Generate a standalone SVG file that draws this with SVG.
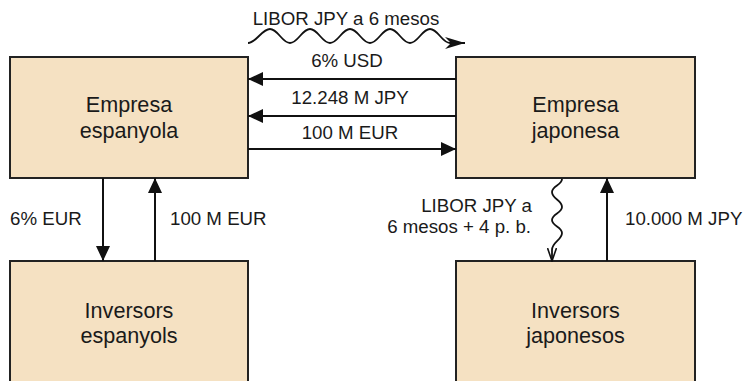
<svg xmlns="http://www.w3.org/2000/svg" width="744" height="381" viewBox="0 0 744 381">
  <style>
    .box { fill: #F5E1C2; stroke: #222; stroke-width: 2; }
    .name { font-family: "Liberation Sans", Arial, sans-serif; font-size: 21.6px; fill: #1a1a1a; text-anchor: middle; }
    .lbl { font-family: "Liberation Sans", Arial, sans-serif; font-size: 18.7px; fill: #1a1a1a; }
    .line { fill: none; stroke: #111; stroke-width: 2; }
    .wave { fill: none; stroke: #111; stroke-width: 1.8; }
  </style>
  <defs>
    <marker id="solid" viewBox="0 0 15 14" refX="15" refY="7" markerWidth="15" markerHeight="14" markerUnits="userSpaceOnUse" orient="auto">
      <path d="M0,0 L15,7 L0,14 Z" fill="#111"/>
    </marker>
    <marker id="barb" viewBox="0 0 20 12" refX="20" refY="6" markerWidth="20" markerHeight="12" markerUnits="userSpaceOnUse" orient="auto">
      <path d="M0,0 L20,6 L0,12 L6,6 Z" fill="#111"/>
    </marker>
    <marker id="open" viewBox="0 0 14 10" refX="13" refY="5" markerWidth="14" markerHeight="10" markerUnits="userSpaceOnUse" orient="auto">
      <path d="M0,0.5 L13,5 L0,9.5" fill="none" stroke="#111" stroke-width="1.6"/>
    </marker>
  </defs>

  <g id="empresa-espanyola">
    <rect class="box" x="10" y="57" width="238" height="121"/>
    <text class="name" x="129" y="112">Empresa</text>
    <text class="name" x="129" y="138">espanyola</text>
  </g>
  <g id="empresa-japonesa">
    <rect class="box" x="456" y="57" width="239" height="121"/>
    <text class="name" x="575.5" y="112">Empresa</text>
    <text class="name" x="575.5" y="138">japonesa</text>
  </g>
  <g id="inversors-espanyols">
    <rect class="box" x="10" y="261" width="238" height="130"/>
    <text class="name" x="129" y="318">Inversors</text>
    <text class="name" x="129" y="343">espanyols</text>
  </g>
  <g id="inversors-japonesos">
    <rect class="box" x="456" y="261" width="239" height="130"/>
    <text class="name" x="575.5" y="318">Inversors</text>
    <text class="name" x="575.5" y="343">japonesos</text>
  </g>

  <g id="connectors">
    <!-- floating-rate leg across the top -->
    <path class="wave" marker-end="url(#barb)" d="M248,43 C256,43 262,29 270,29 C278,29 282,43 290,43 C298,43 302,29 310,29 C318,29 322,43 330,43 C338,43 342,29 350,29 C358,29 362,43 370,43 C378,43 382,29 390,29 C398,29 402,43 410,43 C418,43 422,29 430,29 C438,29 442,43 450,43 L465,43"/>
    <!-- flows between the two companies -->
    <line class="line" x1="456" y1="79" x2="248" y2="79" marker-end="url(#solid)"/>
    <line class="line" x1="456" y1="116" x2="248" y2="116" marker-end="url(#solid)"/>
    <line class="line" x1="248" y1="149" x2="456" y2="149" marker-end="url(#solid)"/>
    <!-- Spanish side -->
    <line class="line" x1="103" y1="178" x2="103" y2="261" marker-end="url(#solid)"/>
    <line class="line" x1="155" y1="261" x2="155" y2="178" marker-end="url(#solid)"/>
    <!-- Japanese side -->
    <path class="wave" marker-end="url(#open)" d="M562,179 C562,185 552,186 552,192 C552,199 562,200 562,207 C562,213 552,214 552,220 C552,226 562,227 562,233 C562,240 552,242 552,250 L552,261"/>
    <line class="line" x1="607" y1="261" x2="607" y2="178" marker-end="url(#solid)"/>
  </g>

  <g id="labels">
    <text class="lbl" x="346" y="25" text-anchor="middle">LIBOR JPY a 6 mesos</text>
    <text class="lbl" x="347" y="67" text-anchor="middle">6% USD</text>
    <text class="lbl" x="350" y="104" text-anchor="middle">12.248 M JPY</text>
    <text class="lbl" x="350" y="139" text-anchor="middle">100 M EUR</text>
    <text class="lbl" x="10" y="225">6% EUR</text>
    <text class="lbl" x="170" y="225">100 M EUR</text>
    <text class="lbl" x="532" y="212" text-anchor="end">LIBOR JPY a</text>
    <text class="lbl" x="531" y="233" text-anchor="end">6 mesos + 4 p. b.</text>
    <text class="lbl" x="625" y="225">10.000 M JPY</text>
  </g>
</svg>
